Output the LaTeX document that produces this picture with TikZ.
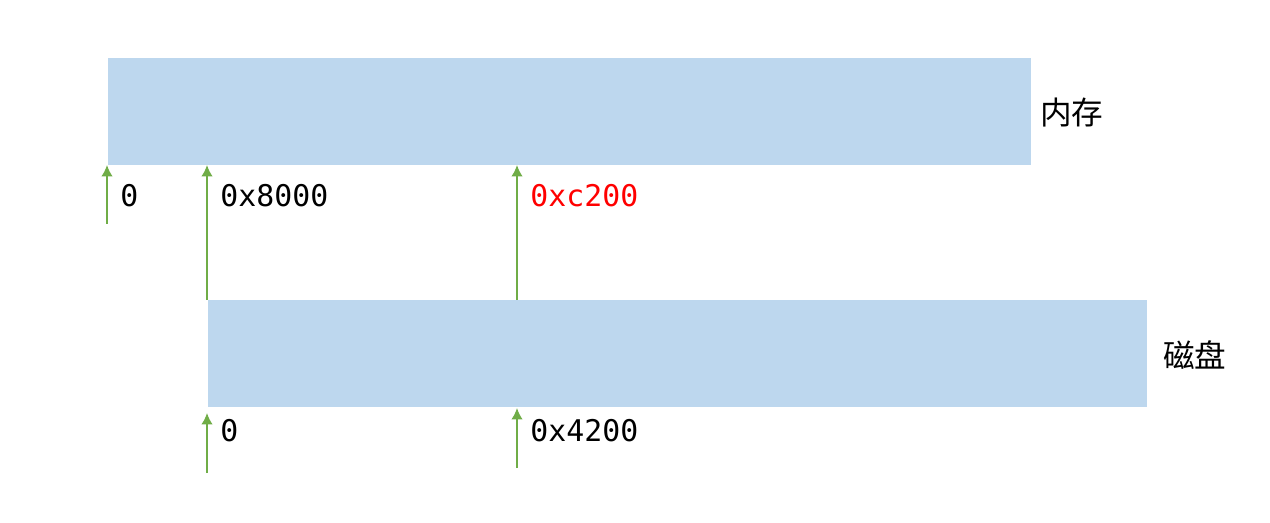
\documentclass[tikz,border=0pt]{standalone}
\usepackage{fontspec}
\setmonofont{DejaVu Sans Mono}
\newfontfamily\cjk{Noto Sans CJK SC}
\usetikzlibrary{positioning,arrows.meta}
\definecolor{blockblue}{HTML}{BDD7EE}
\definecolor{arrowgreen}{HTML}{70AD47}
\begin{document}
\begin{tikzpicture}[x=0.02cm,y=-0.02cm]
		\tikzstyle block_style=[fill=blockblue,draw=none,inner sep=0pt,anchor=north west];
		\tikzstyle addr_style=[-{Latex[length=6.5pt,width=6.5pt]},color=arrowgreen,line width=0.9pt];
		\tikzstyle label_style=[anchor=west,inner sep=0pt,font=\ttfamily\fontsize{17}{20}\selectfont];
		\tikzstyle name_style=[anchor=west,inner sep=0pt,font=\cjk\fontsize{18}{20}\selectfont];
		\useasboundingbox (0,0) rectangle (1270,523);

		% MEMORY AND DISK
		\node[block_style,minimum width=18.46cm,minimum height=2.14cm] (mem) at (108,58) {};
		\node[block_style,minimum width=18.78cm,minimum height=2.14cm] (disk) at (208,300) {};
		\node[name_style] (memname) at (1040,113) {内存};
		\node[name_style] (diskname) at (1163,355) {磁盘};

		% ARROW ENDS
		\coordinate (m0) at (107,165);
		\coordinate (m1) at (207,165);
		\coordinate (m2) at (517,165);
		\coordinate (d0) at (207,413);
		\coordinate (d1) at (517,408);
		\coordinate (m0tail) at (107,224);
		\coordinate (d0tail) at (207,473);
		\coordinate (d1tail) at (517,468);

		% ADDRESS ARROWS
		\draw[addr_style] (m0tail) -- (m0);
		\draw[addr_style] (disk.north west -| m1) -- (m1);
		\draw[addr_style] (disk.north west -| m2) -- (m2);
		\draw[addr_style] (d0tail) -- (d0);
		\draw[addr_style] (d1tail) -- (d1);

		% LABELS
		\node[label_style] (l0) at (120,196) {0};
		\node[label_style] (l8000) at (220,196) {0x8000};
		\node[label_style,red] (lc200) at (530,196) {0xc200};
		\node[label_style] (ld0) at (220,431) {0};
		\node[label_style] (l4200) at (530,431) {0x4200};
\end{tikzpicture}
\end{document}
